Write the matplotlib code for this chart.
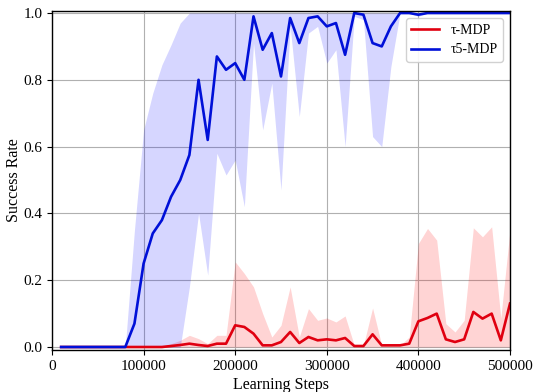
"""
Success rate vs learning steps for tau-MDP and tau5-MDP (mean with shaded spread).
"""
import numpy as np
import matplotlib
matplotlib.use("Agg")
import matplotlib.pyplot as plt

steps = np.arange(10000, 500001, 10000)

# tau-MDP (red)
tau_mean = [0, 0, 0, 0, 0, 0, 0, 0, 0, 0, 0, 0,
            0.003, 0.006, 0.01, 0.006, 0.003, 0.01, 0.01, 0.065, 0.06, 0.04,
            0.005, 0.005, 0.015, 0.045, 0.012, 0.03, 0.02, 0.023, 0.02, 0.027,
            0.003, 0.003, 0.038, 0.005, 0.005, 0.005, 0.01, 0.077, 0.087, 0.1,
            0.023, 0.015, 0.023, 0.105, 0.085, 0.1, 0.02, 0.13]
tau_upper = [0, 0, 0, 0, 0, 0, 0, 0, 0, 0, 0, 0,
             0.01, 0.02, 0.035, 0.025, 0.01, 0.035, 0.035, 0.255, 0.22, 0.18,
             0.10, 0.03, 0.065, 0.18, 0.03, 0.115, 0.08, 0.087, 0.075, 0.093,
             0.005, 0.005, 0.117, 0.005, 0.005, 0.005, 0.03, 0.31, 0.355, 0.32,
             0.07, 0.045, 0.08, 0.357, 0.33, 0.36, 0.087, 0.35]
tau_lower = [0] * 50

# tau5-MDP (blue)
tau5_mean = [0, 0, 0, 0, 0, 0, 0, 0,
             0.07, 0.25, 0.34, 0.38, 0.45, 0.50, 0.575, 0.80, 0.62, 0.87,
             0.83, 0.85, 0.80, 0.99, 0.89, 0.94, 0.81, 0.985, 0.91, 0.985,
             0.99, 0.96, 0.97, 0.875, 1.0, 0.995, 0.91, 0.90, 0.96, 1.0,
             1.0, 0.995,
             1.0, 1.0, 1.0, 1.0, 1.0, 1.0, 1.0, 1.0, 1.0, 1.0]
tau5_upper = [0, 0, 0, 0, 0, 0, 0, 0,
              0.35, 0.65, 0.76, 0.845, 0.905, 0.97] + [1.0] * 36
tau5_lower = [0] * 14 + [
    0.18, 0.40, 0.215, 0.58, 0.515, 0.56, 0.42, 0.91, 0.65, 0.79,
    0.47, 0.96, 0.69, 0.94, 0.96, 0.85, 0.89, 0.60, 0.99, 0.98,
    0.63, 0.60, 0.84, 1.0, 1.0, 0.99] + [1.0] * 10

plt.rcParams['font.family'] = ['Liberation Serif', 'DejaVu Serif']
plt.rcParams['font.size'] = 10

fig = plt.figure(figsize=(5.4, 3.92), dpi=100)
ax = fig.add_axes([0.0963, 0.1071, 0.8481, 0.8648])

ax.grid(True, color='#b0b0b0', linewidth=0.8)
ax.set_axisbelow(True)

ax.fill_between(steps, tau_lower, tau_upper, color='#ff0000', alpha=0.17, linewidth=0)
ax.fill_between(steps, tau5_lower, tau5_upper, color='#0000ff', alpha=0.16, linewidth=0)
ax.plot(steps, tau_mean, color='#e00010', linewidth=1.9, label='τ-MDP')
ax.plot(steps, tau5_mean, color='#0010d8', linewidth=1.9, label='τ5-MDP')

ax.set_xlim(0, 500000)
ax.set_ylim(-0.009, 1.006)
ax.set_xticks([0, 100000, 200000, 300000, 400000, 500000])
ax.set_xticklabels(['0', '100000', '200000', '300000', '400000', '500000'])
ax.set_yticks([0.0, 0.2, 0.4, 0.6, 0.8, 1.0])
ax.set_yticklabels(['0.0', '0.2', '0.4', '0.6', '0.8', '1.0'])
ax.tick_params(labelsize=11, length=3.5, width=0.8)
for s in ax.spines.values():
    s.set_color('black')
    s.set_linewidth(1.0)

ax.set_xlabel('Learning Steps', fontsize=11.5, labelpad=3)
ax.set_ylabel('Success Rate', fontsize=11.5, labelpad=1)

ax.legend(loc='upper right', fontsize=10, framealpha=0.9, handlelength=2.0)

fig.savefig('out.png', dpi=100)
